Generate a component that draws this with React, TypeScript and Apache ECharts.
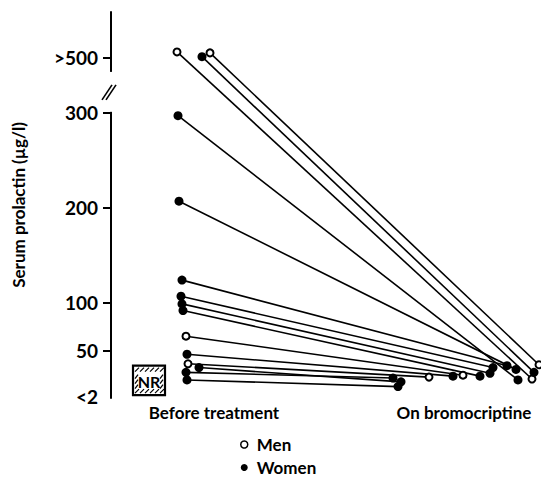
import React, { useEffect, useRef } from "react";
import * as echarts from "echarts";

// ---- data ----
const X_CATEGORIES = ["Before treatment", "On bromocriptine"];
const SEX = ["M", "W", "M", "W", "W", "W", "W", "W", "W", "M", "W", "M", "W", "W", "W"];
// serum prolactin (µg/l) before treatment (values above 500 are only known to exceed 500)
const BEFORE_VALUES = [512, 502, 510, 297, 207, 124, 107, 99, 92, 65, 46, 36, 32, 27, 19];
// serum prolactin (µg/l) on bromocriptine
const AFTER_VALUES = [20, 27, 35, 19, 30, 34, 32, 26, 23, 24, 23, 22, 17, 21, 12];
// horizontal placement of each point around its group (0 = before, 1 = on bromocriptine)
const BEFORE_X = [-0.148, -0.048, -0.016, -0.144, -0.14, -0.128, -0.132, -0.128, -0.124, -0.112, -0.108, -0.104, -0.06, -0.112, -0.108];
const AFTER_X = [1.272, 1.28, 1.3, 1.216, 1.208, 1.172, 1.116, 1.104, 1.064, 0.996, 0.956, 0.86, 0.748, 0.716, 0.736];
const Y_TICKS = [2, 50, 100, 200, 300, 500];
const NR_RANGE = [3, 34];
const NR_X = [-0.324, -0.196];

const FONT = "Lato";
const BREAK_POS = 358; // axis position used for ">500" (broken axis)
const display = (v: number) => (v >= 500 ? BREAK_POS + (v - 500) * 0.5 : v);
const labelOf = (v: number) => (v === 2 ? "<2" : v === BREAK_POS ? ">500" : String(v));

export default function App() {
  const ref = useRef<HTMLDivElement>(null);
  useEffect(() => {
    const chart = echarts.init(ref.current!, undefined, { renderer: "svg" });
    const lineSeries = SEX.map((s, i) => ({
      type: "line",
      name: s === "M" ? "Men" : "Women",
      data: [
        [BEFORE_X[i], display(BEFORE_VALUES[i])],
        [AFTER_X[i], AFTER_VALUES[i]],
      ],
      symbol: s === "M" ? "emptyCircle" : "circle",
      symbolSize: s === "M" ? 7 : 9,
      showSymbol: true,
      showAllSymbol: true,
      lineStyle: { color: "#000", width: 1.6 },
      itemStyle: { color: "#000", borderColor: "#000", borderWidth: s === "M" ? 1.6 : 0 },
      clip: false,
      silent: true,
      z: 3,
    }));
    const nrSeries = {
      type: "custom",
      name: "NR",
      encode: { x: [0, 2], y: [1, 3] },
      data: [[NR_X[0], NR_RANGE[0], NR_X[1], NR_RANGE[1]]],
      clip: false,
      silent: true,
      renderItem: (params: any, api: any) => {
        const p0 = api.coord([api.value(0), api.value(1)]);
        const p1 = api.coord([api.value(2), api.value(3)]);
        const x = p0[0];
        const y = p1[1];
        const w = p1[0] - p0[0];
        const h = p0[1] - p1[1];
        const children: any[] = [
          { type: "rect", shape: { x, y, width: w, height: h }, style: { fill: "#fff", stroke: "#000", lineWidth: 2.2 } },
        ];
        for (let hx = x + 2; hx < x + w - 4; hx += 5) {
          children.push({ type: "line", shape: { x1: hx, y1: y + 6, x2: hx + 4, y2: y + 2 }, style: { stroke: "#000", lineWidth: 1.2 } });
          children.push({ type: "line", shape: { x1: hx, y1: y + h - 2, x2: hx + 4, y2: y + h - 6 }, style: { stroke: "#000", lineWidth: 1.2 } });
        }
        for (let hy = y + 9; hy < y + h - 8; hy += 5) {
          children.push({ type: "line", shape: { x1: x + 2, y1: hy + 4, x2: x + 5, y2: hy }, style: { stroke: "#000", lineWidth: 1.2 } });
          children.push({ type: "line", shape: { x1: x + w - 5, y1: hy + 4, x2: x + w - 2, y2: hy }, style: { stroke: "#000", lineWidth: 1.2 } });
        }
        children.push({
          type: "text",
          style: {
            text: "NR",
            x: x + w / 2,
            y: y + h / 2 + 1,
            align: "center",
            verticalAlign: "middle",
            fontSize: 16,
            fontWeight: "bold",
            fontFamily: FONT,
            fill: "#000",
          },
        });
        return { type: "group", children };
      },
    };
    const yVals = Y_TICKS.map(display);
    chart.setOption({
      animation: false,
      backgroundColor: "#fff",
      grid: { left: 111, right: 0, top: 12, height: 386 },
      xAxis: {
        type: "value",
        min: -0.412,
        max: 1.308,
        axisLine: { show: false, onZero: false },
        axisTick: { show: false },
        splitLine: { show: false },
        axisLabel: {
          customValues: [0, 1],
          formatter: (v: number) => X_CATEGORIES[Math.round(v)],
          color: "#000",
          fontFamily: FONT,
          fontSize: 17,
          fontWeight: "bold",
          margin: 6,
        },
      },
      yAxis: {
        type: "value",
        min: 0,
        max: 406,
        name: "Serum prolactin (µg/l)",
        nameLocation: "middle",
        nameGap: 84,
        nameRotate: 90,
        nameTextStyle: { color: "#000", fontFamily: FONT, fontSize: 17, fontWeight: "bold" },
        axisLine: { show: true, onZero: false, lineStyle: { color: "#000", width: 2 } },
        axisTick: { show: true, customValues: yVals.filter((v) => v !== 2), length: 8, lineStyle: { color: "#000", width: 2 } },
        splitLine: { show: false },
        axisLabel: {
          customValues: yVals,
          formatter: (v: number) => labelOf(v),
          color: "#000",
          fontFamily: FONT,
          fontSize: 19,
          fontWeight: "bold",
          margin: 13,
        },
      },
      legend: {
        data: [
          { name: "Men", icon: "circle", itemStyle: { color: "#fff", borderColor: "#000", borderWidth: 1.5 } },
          { name: "Women", icon: "circle", itemStyle: { color: "#000", borderWidth: 0 } },
        ],
        orient: "vertical",
        left: 240,
        top: 436,
        height: 41,
        itemWidth: 7,
        itemHeight: 7,
        itemGap: 6,
        padding: 0,
        selectedMode: false,
        textStyle: { color: "#000", fontFamily: FONT, fontSize: 17, fontWeight: "bold", lineHeight: 17, padding: [0, 0, 0, 4] },
      },
      series: [...lineSeries, nrSeries],
    });
    // axis break decoration
    const axX = chart.convertToPixel({ xAxisIndex: 0 }, -0.412) as number;
    const gapTop = chart.convertToPixel({ yAxisIndex: 0 }, 343) as number;
    const gapBot = chart.convertToPixel({ yAxisIndex: 0 }, 301) as number;
    const mid = (gapTop + gapBot) / 2;
    chart.setOption({
      graphic: [
        { type: "rect", shape: { x: axX - 4, y: gapTop, width: 8, height: gapBot - gapTop }, style: { fill: "#fff" }, z: 10 },
        { type: "line", shape: { x1: axX - 9, y1: mid + 8, x2: axX + 1, y2: mid - 7 }, style: { stroke: "#000", lineWidth: 1.6 }, z: 11 },
        { type: "line", shape: { x1: axX - 5, y1: mid + 8, x2: axX + 5, y2: mid - 7 }, style: { stroke: "#000", lineWidth: 1.6 }, z: 11 },
      ],
    });
    return () => chart.dispose();
  }, []);
  return <div ref={ref} style={{ position: "fixed", left: 0, top: 0, width: 541, height: 477 }} />;
}
